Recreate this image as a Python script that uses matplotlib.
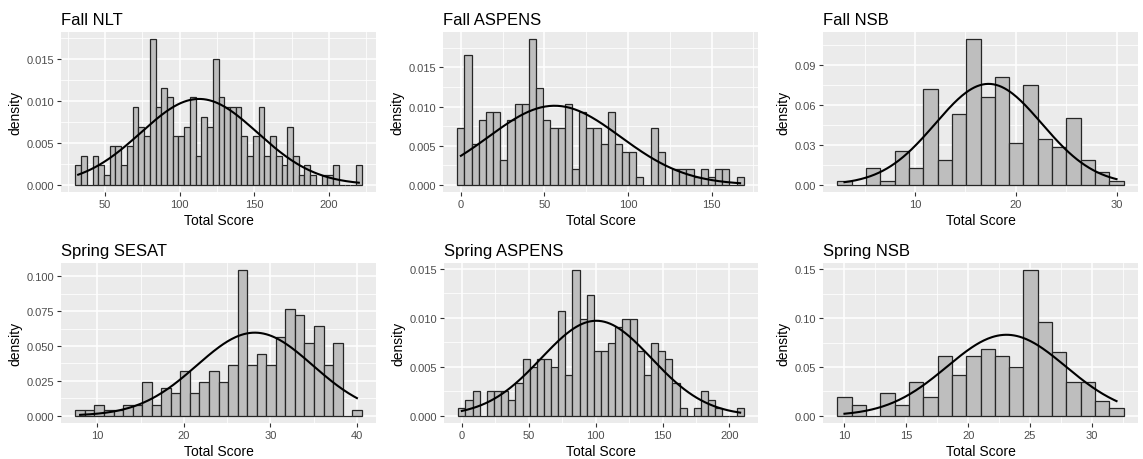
import numpy as np
import matplotlib.pyplot as plt
from matplotlib.ticker import FixedLocator, FormatStrFormatter

plt.rcParams['font.family'] = ['Liberation Sans', 'DejaVu Sans']

titles = ["Fall NLT", "Fall ASPENS", "Fall NSB",
          "Spring SESAT", "Spring ASPENS", "Spring NSB"]

# counts per bin; bins are centred evenly from the lowest to the highest score
fall_nlt = [2, 3, 0, 3, 2, 1, 4, 4, 2, 4, 8, 6, 5, 15, 8, 10, 9, 5, 5, 6, 9, 3, 7, 6, 13,
            9, 8, 8, 8, 5, 3, 5, 8, 3, 5, 3, 2, 6, 3, 1, 2, 1, 0, 1, 1, 2, 0, 0, 0, 2]
fall_aspens = [7, 16, 5, 8, 9, 9, 3, 8, 10, 10, 18, 12, 8, 7, 7, 10, 2, 9, 7, 7,
               5, 9, 5, 4, 4, 1, 0, 7, 4, 0, 2, 2, 2, 1, 2, 1, 2, 2, 0, 1]
fall_nsb = [1, 0, 4, 1, 8, 4, 23, 6, 17, 35, 21, 26, 10, 24, 11, 9, 16, 6, 3, 1]
spring_sesat = [1, 1, 2, 1, 1, 2, 2, 6, 2, 5, 4, 8, 4, 6, 8, 6, 9, 26, 9, 11,
                9, 14, 19, 18, 13, 16, 9, 13, 0, 1]
spring_aspens = [1, 2, 3, 0, 3, 3, 3, 2, 4, 7, 6, 7, 7, 6, 13, 5, 18, 12, 15, 8,
                 8, 9, 11, 12, 12, 8, 5, 9, 8, 7, 4, 1, 0, 1, 3, 2, 1, 0, 0, 1]
spring_nsb = [5, 3, 0, 6, 3, 9, 5, 16, 11, 16, 18, 16, 13, 39, 25, 17, 9, 9, 4, 2]

all_counts = [fall_nlt, fall_aspens, fall_nsb, spring_sesat, spring_aspens, spring_nsb]

# lowest / highest score of each test
score_min = [32, 0, 3, 8, 0, 10]
score_max = [220, 167, 30, 40, 208, 32]

# normal curve parameters (mean, sd)
fit_mean = [113, 56, 17.3, 28.2, 100.5, 23.1]
fit_sd = [39.1, 39.5, 5.28, 6.70, 41.1, 4.81]

x_ticks = [[50, 100, 150, 200], [0, 50, 100, 150], [10, 20, 30],
           [10, 20, 30, 40], [0, 50, 100, 150, 200], [10, 15, 20, 25, 30]]
y_ticks = [[0, 0.005, 0.010, 0.015], [0, 0.005, 0.010, 0.015], [0, 0.03, 0.06, 0.09],
           [0, 0.025, 0.050, 0.075, 0.100], [0, 0.005, 0.010, 0.015], [0, 0.05, 0.10, 0.15]]
y_fmt = ["%.3f", "%.3f", "%.2f", "%.3f", "%.3f", "%.2f"]

W, H = 1143, 460
boxes = [(61, 33, 376, 193), (443, 33, 758, 193), (823, 33, 1138, 193),
         (61, 264, 376, 424), (444, 264, 758, 424), (823, 264, 1138, 424)]

fig = plt.figure(figsize=(W / 100, H / 100), dpi=100)

for i in range(6):
    l, t, r, b = boxes[i]
    ax = fig.add_axes([l / W, 1 - b / H, (r - l) / W, (b - t) / H])
    ax.set_facecolor('#EBEBEB')
    for s in ax.spines.values():
        s.set_visible(False)

    cnt = np.array(all_counts[i], dtype=float)
    lo, hi = score_min[i], score_max[i]
    width = (hi - lo) / (len(cnt) - 1)
    centers = lo + width * np.arange(len(cnt))
    dens = cnt / (cnt.sum() * width)
    ax.bar(centers, dens, width=width, color='#BEBEBE', edgecolor='#262626',
           linewidth=0.9, zorder=2)

    mu, sd = fit_mean[i], fit_sd[i]
    xs = np.linspace(lo, hi, 200)
    ys = np.exp(-0.5 * ((xs - mu) / sd) ** 2) / (sd * np.sqrt(2 * np.pi))
    ax.plot(xs, ys, color='black', lw=1.5, zorder=3)

    x0, x1 = lo - width / 2, hi + width / 2
    span = x1 - x0
    ax.set_xlim(x0 - 0.05 * span, x1 + 0.05 * span)
    ymax = max(dens.max(), ys.max())
    ax.set_ylim(-0.05 * ymax, 1.05 * ymax)

    xt, yt = x_ticks[i], y_ticks[i]
    xstep, ystep = xt[1] - xt[0], yt[1] - yt[0]
    xminor = np.arange(xt[0] - xstep / 2, x1 + 0.05 * span, xstep)
    yminor = np.arange(ystep / 2, 1.05 * ymax, ystep)
    ax.xaxis.set_major_locator(FixedLocator(xt))
    ax.yaxis.set_major_locator(FixedLocator(yt))
    ax.xaxis.set_minor_locator(FixedLocator(xminor))
    ax.yaxis.set_minor_locator(FixedLocator(yminor))
    ax.yaxis.set_major_formatter(FormatStrFormatter(y_fmt[i]))
    ax.grid(which='major', color='white', lw=1.1, zorder=0)
    ax.grid(which='minor', color='white', lw=0.55, zorder=0)
    ax.set_axisbelow(True)
    ax.tick_params(which='major', length=2.75, width=0.8, color='#333333',
                   labelsize=8, labelcolor='#4D4D4D', pad=2)
    ax.tick_params(which='minor', length=0)

    ax.set_xlabel("Total Score", fontsize=10, labelpad=3.5)
    ax.set_ylabel("density", fontsize=10, labelpad=3)
    ax.set_title(titles[i], loc='left', fontsize=12, pad=6)

fig.savefig("out.png", dpi=100)
